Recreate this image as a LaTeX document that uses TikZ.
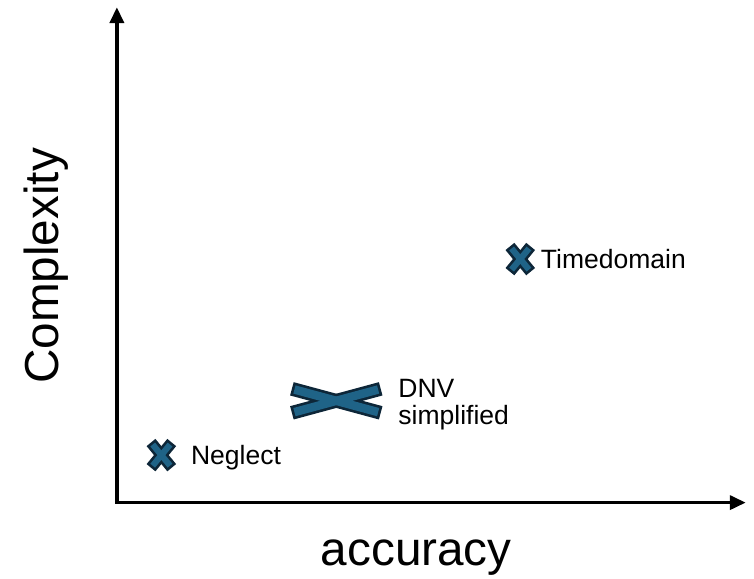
\documentclass[tikz,border=0pt]{standalone}
\usepackage{fontspec}
\setmainfont{Liberation Sans}
\usetikzlibrary{arrows.meta,positioning}
\definecolor{xbleu}{RGB}{31,99,135}
\definecolor{xnuit}{RGB}{13,38,56}
\newcommand{\pointe}[0]{Triangle[length=6pt,width=5.3pt]}
\newcommand{\croix}[4][2.3pt]{\begin{scope}[shift={(#2)}]
	\foreach \sty in {xedge,xfill}{
	\draw[\sty=#1] (-#3,-#4) -- (#3,#4);
	\draw[\sty=#1] (-#3,#4) -- (#3,-#4);}
	\end{scope}}
\tikzset{
	axe/.style = {line width=1.3pt, {\pointe}-{\pointe}},
	xedge/.style = {draw=xnuit, line width=#1+2pt,
		shorten <=-1pt, shorten >=-1pt},
	xfill/.style = {draw=xbleu, line width=#1},
	lbl/.style = {font=\fontsize{10}{10.5}\selectfont, align=left},
	titre/.style = {font=\fontsize{18}{20}\selectfont}
}

\begin{document}
\begin{tikzpicture}
	\useasboundingbox (0,0) rectangle (10,7.666);
%Axes
	\coordinate (O) at (1.55,1.00);
	\coordinate (ytop) at (1.55,7.57);
	\coordinate (xend) at (9.89,1.00);
	\draw[axe] (ytop) -- (O) -- (xend);
	\node[titre, rotate=90, anchor=base] (cplx) at (0.78,4.14) {Complexity};
	\node[titre, anchor=base] (acc) at (5.52,0.17) {accuracy};
%Methods
	\coordinate (tdm) at (6.90,4.23);
	\coordinate (dnv) at (4.46,2.35);
	\coordinate (neg) at (2.14,1.63);
	\croix{tdm}{0.115}{0.14};
	\croix[3.2pt]{dnv}{0.555}{0.15};
	\croix{neg}{0.115}{0.14};
	\node[lbl, right=0.15cm of tdm] (tdmlbl) {Timedomain};
	\node[lbl, right=0.7cm of dnv, yshift=-0.05cm] (dnvlbl) {DNV\\simplified};
	\node[lbl, right=0.27cm of neg, yshift=-0.04cm] (neglbl) {Neglect};
\end{tikzpicture}
\end{document}
